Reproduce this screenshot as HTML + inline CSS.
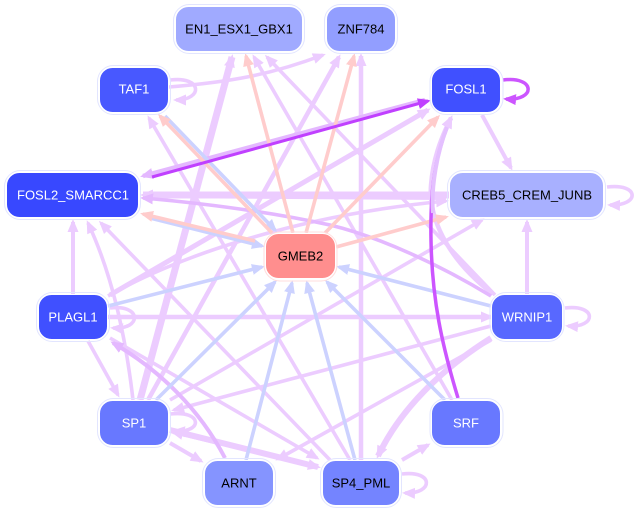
<!DOCTYPE html>
<html><head><meta charset="utf-8"><style>
html,body{margin:0;padding:0;background:#fff}
svg{display:block}
text{font-family:"Liberation Sans",sans-serif;font-size:13px;text-anchor:middle}
.l{stroke:#ecccff;stroke-width:3.6;fill:none;marker-end:url(#ml)}
.m{stroke:#e4b8ff;stroke-width:3.6;fill:none;marker-end:url(#mm)}
.b{stroke:#ccd2ff;stroke-width:3.6;fill:none;marker-end:url(#mb)}
.p{stroke:#ffcccc;stroke-width:3.6;fill:none;marker-end:url(#mp)}
.o{fill:none;stroke:#e2e5ff;stroke-width:1}
.n{stroke:#fff;stroke-width:1}
</style></head><body>
<svg width="635" height="512" viewBox="0 0 635 512" xmlns="http://www.w3.org/2000/svg">
<defs>
<marker id="ml" markerUnits="userSpaceOnUse" markerWidth="15" markerHeight="14" refX="10" refY="7" orient="auto"><path d="M0,1.5L13,7L0,12.500z" fill="#ecccff"/></marker>
<marker id="mm" markerUnits="userSpaceOnUse" markerWidth="15" markerHeight="14" refX="10" refY="7" orient="auto"><path d="M0,1.5L13,7L0,12.500z" fill="#e4b8ff"/></marker>
<marker id="mb" markerUnits="userSpaceOnUse" markerWidth="15" markerHeight="14" refX="10" refY="7" orient="auto"><path d="M0,1.5L13,7L0,12.500z" fill="#ccd2ff"/></marker>
<marker id="mp" markerUnits="userSpaceOnUse" markerWidth="15" markerHeight="14" refX="10" refY="7" orient="auto"><path d="M0,1.5L13,7L0,12.500z" fill="#ffcccc"/></marker>
<marker id="md" markerUnits="userSpaceOnUse" markerWidth="15" markerHeight="14" refX="10" refY="7" orient="auto"><path d="M0,1.5L13,7L0,12.500z" fill="#c040ff"/></marker>
<marker id="mv" markerUnits="userSpaceOnUse" markerWidth="15" markerHeight="14" refX="10" refY="7" orient="auto"><path d="M0,1.5L13,7L0,12.500z" fill="#cc55ff"/></marker>
</defs>

<!-- light purple edges -->
<path class="l" d="M482,115L511,168" style="stroke-width:4"/>
<path class="l" d="M527,294L527,222" style="stroke-width:4"/>
<path class="l" d="M73,294L73,222" style="stroke-width:4"/>
<path class="l" d="M133,400C125,330 110,270 88,223"/>
<path class="l" d="M330,460L101,223"/>
<path class="l" d="M88,341L118,395"/>
<path class="l" d="M170,443L201,461" style="stroke-width:4"/>
<path class="l" d="M110,338L317,458"/>
<path class="l" d="M491,340L278,459"/>
<path class="l" d="M491,326L174,410"/>
<path class="l" d="M170,400L482,220"/>
<path class="l" d="M108,317L491,317" style="stroke-width:4.500"/>
<path class="l" d="M361,460L361,56" style="stroke-width:4.500"/>
<path class="l" d="M350,460L149,118"/>
<path class="l" d="M452,400L254,57"/>
<path class="l" d="M495,295L267,57"/>
<path class="l" d="M140,400L232,57" style="stroke-width:7"/>
<path class="l" d="M148,400L339,57" style="stroke-width:4.500"/>
<path class="l" d="M449,195L143,195" style="stroke-width:7"/>
<path class="l" d="M143,195L446,197" style="stroke-width:6"/>
<path class="l" d="M110,295L428,110" style="stroke-width:5"/>
<path class="l" d="M108,296C180,255 300,215 446,201"/>
<path class="l" d="M170,430L318,467" style="stroke-width:6"/>
<path class="l" d="M318,467L173,432" style="stroke-width:4"/>
<path class="l" d="M491,338C440,370 400,410 378,456" style="stroke-width:6"/>
<path class="l" d="M402,460L428,445" style="stroke-width:4"/>
<path class="l" d="M169,87C230,82 270,75 323,55"/>
<path class="l" d="M493,294C455,265 428,225 431,185C433,160 440,140 451,118" style="stroke-width:4.500"/>
<path class="m" d="M491,296C440,265 380,237 330,225C270,212 200,203 143,198"/>
<path class="m" d="M225,458C200,410 160,370 113,343" style="stroke-width:4"/>
<path class="m" d="M425,100L143,176" style="stroke-width:4.500"/>

<!-- self loops -->
<path class="l" d="M170,80C203,76 203,100 176,100"/>
<path class="l" d="M607,187C640,183 640,206 610,205"/>
<path class="l" d="M565,308C597,304 597,328 568,326"/>
<path class="l" d="M402,474C434,470 434,494 405,493"/>
<path class="l" d="M170,414C203,410 203,433 175,431"/>
<path class="l" d="M110,308C142,304 142,330 113,328"/>
<path d="M503,80C536,76 536,101 506,99" fill="none" stroke="#cc55ff" stroke-width="3.500" marker-end="url(#mv)"/>

<!-- blue edges -->
<path class="b" d="M165,116L275,230"/>
<path class="b" d="M150,218L262,246"/>
<path class="b" d="M108,306L262,267"/>
<path class="b" d="M156,400L275,282"/>
<path class="b" d="M246,460L292,283"/>
<path class="b" d="M355,460L307,283"/>
<path class="b" d="M445,400L327,282"/>
<path class="b" d="M491,306L339,267"/>

<!-- pink edges -->
<path class="p" d="M293,233L246,56"/>
<path class="p" d="M306,233L354,56"/>
<path class="p" d="M325,233L438,117"/>
<path class="p" d="M336,247L446,217"/>
<path class="p" d="M272,233L160,116"/>
<path class="p" d="M255,241L143,214"/>

<!-- dark edges -->
<path d="M152,177L428,101" fill="none" stroke="#c040ff" stroke-width="3" marker-end="url(#md)"/>
<path d="M458,398C442,345 432,300 431,240C430,190 435,155 450,120" fill="none" stroke="#cc55ff" stroke-width="3.500"/>
<path d="M433,213C431,190 436,150 451,118" fill="none" stroke="#e4c0ff" stroke-width="4" marker-end="url(#ml)"/>

<!-- nodes -->
<g>
<rect class="o" x="173.500" y="4.500" width="131" height="49" rx="16"/><rect class="n" x="175.500" y="6.500" width="127" height="45" rx="13" fill="#a0aaff"/><text x="239" y="33.500" fill="#000">EN1_ESX1_GBX1</text>
<rect class="o" x="324.500" y="4.500" width="73" height="49" rx="16"/><rect class="n" x="326.500" y="6.500" width="69" height="45" rx="13" fill="#929eff"/><text x="361" y="33.500" fill="#000">ZNF784</text>
<rect class="o" x="97.500" y="65.500" width="73" height="49" rx="16"/><rect class="n" x="99.500" y="67.500" width="69" height="45" rx="13" fill="#4858ff"/><text x="134" y="93.500" fill="#fff">TAF1</text>
<rect class="o" x="430" y="65.500" width="73" height="49" rx="16"/><rect class="n" x="431.500" y="67.500" width="69" height="45" rx="13" fill="#4050ff"/><text x="466" y="93.500" fill="#fff">FOSL1</text>
<rect class="o" x="4.500" y="170.500" width="136" height="49" rx="16"/><rect class="n" x="6.500" y="172.500" width="132" height="45" rx="13" fill="#3848ff"/><text x="73" y="199.500" fill="#fff">FOSL2_SMARCC1</text>
<rect class="o" x="447.500" y="170.500" width="158" height="49" rx="16"/><rect class="n" x="449.500" y="172.500" width="154" height="45" rx="13" fill="#a8b0ff"/><text x="527" y="199.500" fill="#000">CREB5_CREM_JUNB</text>
<rect class="o" x="264" y="232" width="73" height="49" rx="16" style="stroke:#ffdcdc"/><rect class="n" x="265.500" y="233.500" width="70" height="45" rx="13" fill="#ff8e8e"/><text x="300.500" y="260.500" fill="#000">GMEB2</text>
<rect class="o" x="36.500" y="292.500" width="73" height="49" rx="16"/><rect class="n" x="38.500" y="294.500" width="69" height="45" rx="13" fill="#4050ff"/><text x="73" y="321.500" fill="#fff">PLAGL1</text>
<rect class="o" x="490" y="292.500" width="74" height="49" rx="16"/><rect class="n" x="491.500" y="294.500" width="71" height="45" rx="13" fill="#5868ff"/><text x="527" y="321.500" fill="#fff">WRNIP1</text>
<rect class="o" x="97.500" y="398.500" width="73" height="49" rx="16"/><rect class="n" x="99.500" y="400.500" width="69" height="45" rx="13" fill="#6878ff"/><text x="134" y="427.500" fill="#fff">SP1</text>
<rect class="o" x="430" y="398.500" width="73" height="49" rx="16"/><rect class="n" x="431.500" y="400.500" width="69" height="45" rx="13" fill="#6878ff"/><text x="466" y="427.500" fill="#fff">SRF</text>
<rect class="o" x="202.500" y="458.500" width="73" height="49" rx="16"/><rect class="n" x="204.500" y="460.500" width="69" height="45" rx="13" fill="#8594ff"/><text x="239" y="487.500" fill="#000">ARNT</text>
<rect class="o" x="320.500" y="458.500" width="81" height="49" rx="16"/><rect class="n" x="322.500" y="460.500" width="77" height="45" rx="13" fill="#7484ff"/><text x="361" y="487.500" fill="#000">SP4_PML</text>
</g>
</svg>
</body></html>
